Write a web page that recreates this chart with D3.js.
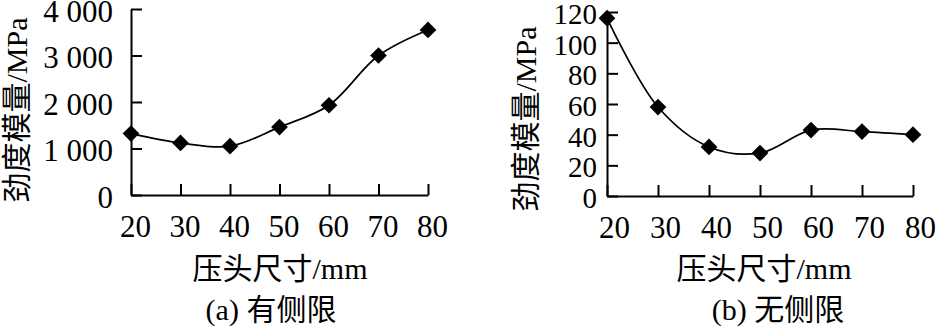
<!DOCTYPE html>
<html>
<head>
<meta charset="utf-8">
<script src="https://cdn.jsdelivr.net/npm/d3@7"></script>
<style>
  html, body { margin: 0; padding: 0; background: #fff; }
  svg { display: block; }
  text { font-family: "Liberation Serif", "Noto Sans CJK SC", serif; fill: #000; }
</style>
</head>
<body>
<svg id="chart" width="936" height="331"></svg>
<script>
// ---- data ----
const sizes = [20, 30, 40, 50, 60, 70, 80];               // 压头尺寸 / mm
const confinedModulus = [1320, 1120, 1050, 1460, 1930, 3000, 3550];   // (a) 有侧限
const unconfinedModulus = [116, 58, 32, 28, 43, 42, 40];              // (b) 无侧限
const xTicks = [20, 30, 40, 50, 60, 70, 80];
const yTicksA = [0, 1000, 2000, 3000, 4000];
const yTickLabelsA = ["0", "1 000", "2 000", "3 000", "4 000"];
const yTicksB = [0, 20, 40, 60, 80, 100, 120];
const yTickLabelsB = ["0", "20", "40", "60", "80", "100", "120"];
const yTitle = "劲度模量/MPa";
const xTitle = "压头尺寸/mm";
const captionA = "(a) 有侧限";
const captionB = "(b) 无侧限";

const svg = d3.select("#chart");
svg.append("rect").attr("width", 936).attr("height", 331).attr("fill", "#fff");

function panel(cfg) {
  const g = svg.append("g");
  const x = d3.scaleLinear().domain([20, 80]).range(cfg.xRange);
  const y = d3.scaleLinear().domain(cfg.yDomain).range(cfg.yRange);

  // x axis
  const xa = g.append("g")
    .attr("transform", `translate(0,${cfg.yRange[0]})`)
    .call(d3.axisBottom(x).tickValues(xTicks).tickSizeInner(-11).tickSizeOuter(0).tickFormat(d3.format("d")));
  xa.select(".domain").attr("stroke-width", 2);
  xa.selectAll(".tick line").attr("stroke-width", 2);
  xa.selectAll(".tick text")
    .attr("dy", null).attr("y", 42).attr("dx", cfg.xLabelDx)
    .style("font-size", "31px");

  // y axis
  const ya = g.append("g")
    .attr("transform", `translate(${cfg.xRange[0]},0)`)
    .call(d3.axisLeft(y).tickValues(cfg.yTicks).tickSizeInner(-11).tickSizeOuter(0)
      .tickPadding(cfg.yPad).tickFormat((d, i) => cfg.yLabels[i]));
  ya.select(".domain").attr("stroke-width", 2);
  ya.selectAll(".tick line").attr("stroke-width", 2);
  ya.selectAll(".tick text").attr("dy", "0.4em").style("font-size", cfg.yFont);
  ya.selectAll("text").attr("fill", "#000");
  xa.selectAll("text").attr("fill", "#000");

  // curve
  const line = d3.line()
    .x((d, i) => x(sizes[i]))
    .y(d => y(d))
    .curve(d3.curveCatmullRom.alpha(0.5));
  g.append("path")
    .datum(cfg.values)
    .attr("d", line)
    .attr("fill", "none")
    .attr("stroke", "#000")
    .attr("stroke-width", 1.7);

  // markers (diamonds)
  g.selectAll(".mk")
    .data(cfg.values)
    .enter().append("path")
    .attr("d", d3.symbol(d3.symbolSquare, 140))
    .attr("transform", (d, i) => `translate(${x(sizes[i])},${y(d)}) rotate(45)`)
    .attr("fill", "#000");

  // y title
  g.append("text")
    .attr("transform", `translate(${cfg.yTitlePos[0]},${cfg.yTitlePos[1]}) rotate(-90)`)
    .attr("text-anchor", "middle")
    .attr("dominant-baseline", "central")
    .style("font-size", "30px")
    .text(yTitle);

  // x title
  g.append("text")
    .attr("x", cfg.xTitleX).attr("y", 279)
    .attr("text-anchor", "middle")
    .style("font-size", "30px")
    .text(xTitle);

  // caption
  g.append("text")
    .attr("x", cfg.captionX).attr("y", 320)
    .attr("text-anchor", "middle")
    .style("font-size", "30px")
    .text(cfg.caption);
}

panel({
  xRange: [131, 428], yDomain: [0, 4000], yRange: [195, 9],
  yTicks: yTicksA, yLabels: yTickLabelsA, yPad: 18, xLabelDx: 4, yFont: "31px",
  values: confinedModulus,
  yTitlePos: [16, 110], xTitleX: 280, captionX: 271, caption: captionA
});

panel({
  xRange: [607, 913], yDomain: [0, 120], yRange: [196, 12],
  yTicks: yTicksB, yLabels: yTickLabelsB, yPad: 10, xLabelDx: 7, yFont: "29px",
  values: unconfinedModulus,
  yTitlePos: [525, 119], xTitleX: 764, captionX: 778, caption: captionB
});
</script>
</body>
</html>
